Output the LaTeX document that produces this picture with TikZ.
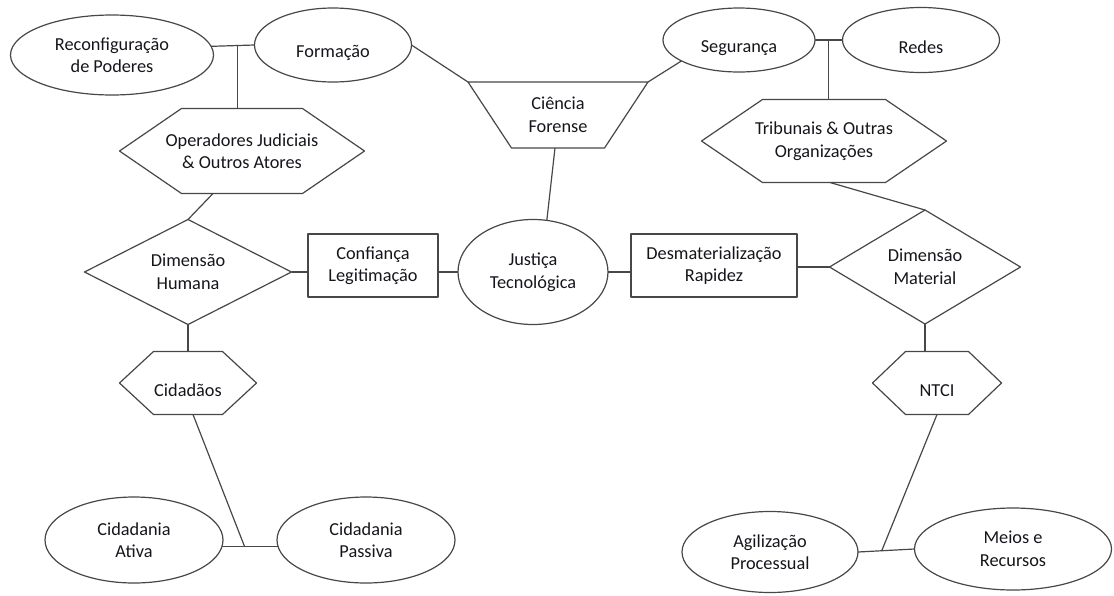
\documentclass[tikz,border=0pt]{standalone}
\usepackage{fontspec}
\setmainfont{Carlito}
\usetikzlibrary{shapes.geometric,calc}
\definecolor{linegray}{HTML}{474747}
\definecolor{txtgray}{HTML}{15151C}
\newcommand\hexframe[2]{\draw[shp] (#1.west) -- ([xshift=#2]#1.north west) -- ([xshift=-#2]#1.north east) -- (#1.east) -- ([xshift=-#2]#1.south east) -- ([xshift=#2]#1.south west) -- cycle;}
\begin{document}
\begin{tikzpicture}[
  x=1pt, y=-1pt,
  every node/.style={font=\fontsize{18.3}{22.5}\selectfont, text=txtgray, align=center, inner sep=0pt, outer sep=0pt, execute at begin node={\rule{0pt}{28pt}}},
  shp/.style={draw=linegray, line width=1.2pt, line join=round},
  oval/.style={shp, ellipse},
  box/.style={shp, rectangle},
  rhomb/.style={shp, diamond, aspect=2},
  hexa/.style={rectangle}
]
\useasboundingbox (0,0) rectangle (1114,595);
\node[oval, minimum width=203pt, minimum height=80pt] (reconf) at (112,55) {Reconfiguração\\de Poderes};
\node[oval, minimum width=157pt, minimum height=74pt] (form) at (333,45) {Formação};
\node[oval, minimum width=152pt, minimum height=64pt] (seg) at (739,40) {Segurança};
\node[oval, minimum width=157pt, minimum height=65pt] (redes) at (921,40) {Redes};
\node[minimum width=180pt, minimum height=66pt] (forense) at (558,115) {Ciência\\Forense};
\node[hexa, minimum width=245pt, minimum height=85pt] (ops) at (242,151) {Operadores Judiciais\\\& Outros Atores};
\node[hexa, minimum width=245pt, minimum height=83pt] (trib) at (824,141) {Tribunais \& Outras\\Organizações};
\node[rhomb, minimum width=207pt, minimum height=105pt] (humana) at (188,272) {Dimensão\\Humana};
\node[box, minimum width=130pt, minimum height=63pt] (conf) at (373,265.5) {Confiança\\Legitimação};
\node[oval, minimum width=150pt, minimum height=105pt] (just) at (533,272) {Justiça\\Tecnológica};
\node[box, minimum width=166pt, minimum height=63pt] (desm) at (714,265.5) {Desmaterialização\\Rapidez};
\node[rhomb, minimum width=191pt, minimum height=114pt] (material) at (925,267) {Dimensão\\Material};
\node[hexa, minimum width=137pt, minimum height=63pt] (cid) at (188,383) {Cidadãos};
\node[hexa, minimum width=129pt, minimum height=63pt] (ntci) at (937,383) {NTCI};
\node[oval, minimum width=178pt, minimum height=86pt] (ativa) at (134,540) {Cidadania\\Ativa};
\node[oval, minimum width=178pt, minimum height=86pt] (passiva) at (366,540) {Cidadania\\Passiva};
\node[oval, minimum width=176pt, minimum height=81pt] (agil) at (770,552) {Agilização\\Processual};
\node[oval, minimum width=197pt, minimum height=82pt] (meios) at (1013,549) {Meios e\\Recursos};

\hexframe{ops}{62pt}
\hexframe{trib}{61pt}
\hexframe{cid}{34pt}
\hexframe{ntci}{33pt}
\draw[shp] (forense.north west) -- (forense.north east) -- ([xshift=-43.5pt]forense.south east) -- ([xshift=43.5pt]forense.south west) -- cycle;

\coordinate (jpod) at ($(reconf.5)!0.6!(form.west)$);
\coordinate (jseg) at ($(seg.east)!0.5!(redes.west)$);
\coordinate (jcid) at ($(ativa.-4)!0.4!(passiva.184)$);
\coordinate (jagil) at ($(agil.east)!0.42!(meios.west)$);

\draw[shp] (reconf.5) -- (form.west);
\draw[shp] (jpod) -- (jpod |- ops.north);
\draw[shp] (form.east) -- (forense.north west);
\draw[shp] (seg.200) -- (forense.north east);
\draw[shp] (seg.east) -- (redes.west);
\draw[shp] (jseg) -- (jseg |- trib.north);
\draw[shp] ([xshift=-3pt]forense.south) -- (just.75);
\draw[shp] ([xshift=-29pt]ops.south) -- (humana.north);
\draw[shp] (humana.east) -- (humana.east -| conf.west);
\draw[shp] (conf.east |- just.west) -- (just.west);
\draw[shp] (just.east) -- (just.east -| desm.west);
\draw[shp] (desm.east |- material.west) -- (material.west);
\draw[shp] ([xshift=6pt]trib.south) -- (material.north);
\draw[shp] (humana.south) -- (cid.north);
\draw[shp] (material.south) -- (material.south |- ntci.north);
\draw[shp] (ativa.-4) -- (passiva.184);
\draw[shp] ([xshift=5pt]cid.south) -- (jcid);
\draw[shp] (agil.east) -- (meios.west);
\draw[shp] (ntci.south) -- (jagil);
\end{tikzpicture}
\end{document}
